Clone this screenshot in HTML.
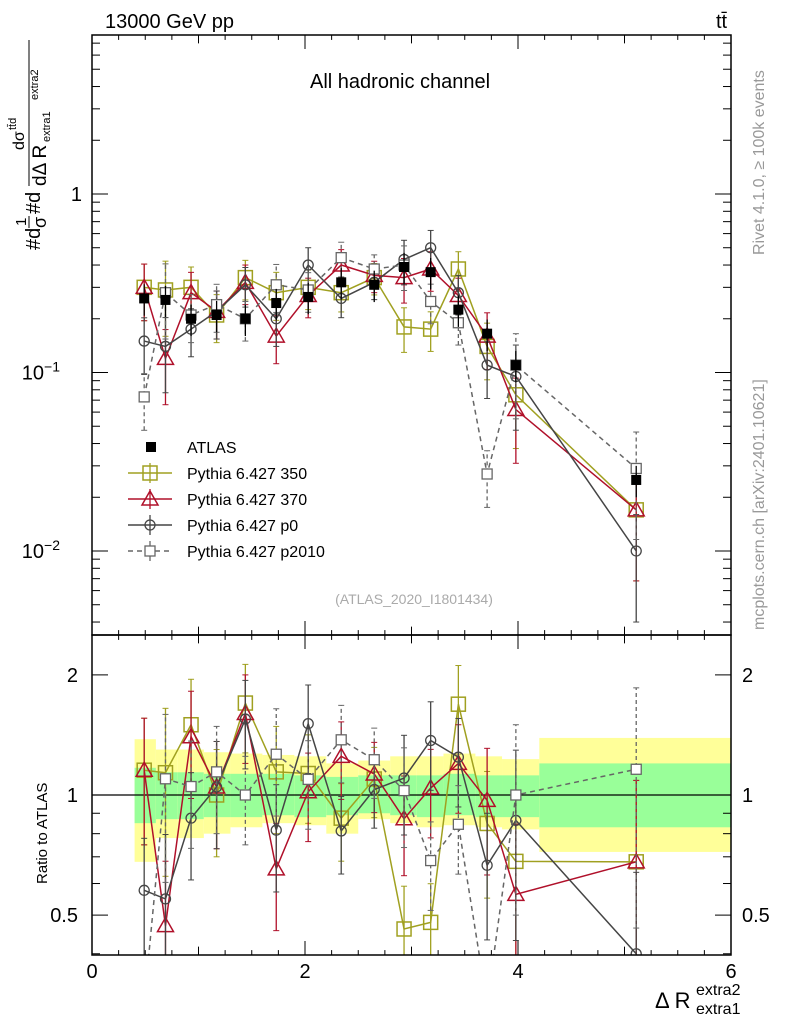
<!DOCTYPE html>
<html><head><meta charset="utf-8"><style>
html,body{margin:0;padding:0;width:786px;height:1024px;overflow:hidden;background:#fff;font-family:"Liberation Sans",sans-serif}
svg{display:block}
svg text{font-family:"Liberation Sans","DejaVu Sans",sans-serif}
</style></head><body>
<svg id="c" width="786" height="1024" xmlns="http://www.w3.org/2000/svg"></svg>
<script>
const binEdges=[0.4,0.6,0.8,1.05,1.3,1.6,1.9,2.2,2.5,2.8,3.05,3.3,3.6,3.85,4.2,6.0];
const binCenters=[0.49,0.69,0.93,1.17,1.44,1.73,2.03,2.34,2.65,2.93,3.18,3.44,3.71,3.98,5.11];
const atlasValues=[0.26,0.255,0.20,0.21,0.20,0.245,0.265,0.32,0.31,0.39,0.365,0.225,0.165,0.11,0.025];
const bandTotUp=[1.38,1.3,1.3,1.28,1.27,1.26,1.25,1.2,1.22,1.25,1.25,1.27,1.25,1.23,1.39];
const bandTotDn=[0.68,0.78,0.78,0.8,0.83,0.85,0.84,0.8,0.87,0.85,0.83,0.84,0.83,0.82,0.72];
const bandStatUp=[1.17,1.14,1.14,1.13,1.13,1.13,1.12,1.11,1.12,1.12,1.12,1.13,1.12,1.12,1.2];
const bandStatDn=[0.85,0.87,0.87,0.88,0.88,0.89,0.88,0.89,0.9,0.89,0.88,0.89,0.88,0.88,0.83];
const p350=[0.30,0.29,0.30,0.21,0.34,0.28,0.30,0.28,0.34,0.18,0.175,0.38,0.14,0.075,0.017];
const p370=[0.30,0.12,0.28,0.22,0.32,0.16,0.27,0.40,0.35,0.34,0.38,0.27,0.16,0.062,0.017];
const pP0=[0.15,0.14,0.175,0.22,0.31,0.20,0.40,0.26,0.32,0.43,0.50,0.28,0.11,0.095,0.010];
const pP2010=[0.073,0.28,0.21,0.24,0.20,0.31,0.29,0.44,0.38,0.40,0.25,0.19,0.027,0.11,0.029];
const mcRelErr=[0.35,0.45,0.3,0.3,0.25,0.3,0.25,0.22,0.2,0.28,0.25,0.25,0.35,0.5,0.6];
const xTicks=[0,2,4,6];
const legendLabels=["ATLAS","Pythia 6.427 350","Pythia 6.427 370","Pythia 6.427 p0","Pythia 6.427 p2010"];

const svg=document.getElementById('c');const NS="http://www.w3.org/2000/svg";
function el(t,a,p){const e=document.createElementNS(NS,t);for(const k in a)e.setAttribute(k,a[k]);(p||svg).appendChild(e);return e;}
const X0=92,X1=731,T0=35,T1=635,R1=955;
const clamp=(v,a,b)=>Math.min(b,Math.max(a,v));
const xs=v=>X0+(v-0)/6*(X1-X0);
const ys=v=>194-178.5*Math.log10(clamp(v,0.002,10));
const yr=v=>795-399*Math.log10(clamp(v,0.3,3));
const defs=el('defs',{});
const c1=el('clipPath',{id:'cTop'},defs);el('rect',{x:X0,y:T0,width:X1-X0,height:T1-T0},c1);
const c2=el('clipPath',{id:'cRat'},defs);el('rect',{x:X0,y:T1,width:X1-X0,height:R1-T1},c2);
const gTop=el('g',{'clip-path':'url(#cTop)'});
const gRat=el('g',{'clip-path':'url(#cRat)'});
binCenters.forEach((c,i)=>{
 const x=xs(binEdges[i]),w=xs(binEdges[i+1])-x;
 const b1=el('rect',{x:x,y:yr(bandTotUp[i]),width:w,height:yr(bandTotDn[i])-yr(bandTotUp[i]),fill:'#ffff99'},gRat);
 
 const b2=el('rect',{x:x,y:yr(bandStatUp[i]),width:w,height:yr(bandStatDn[i])-yr(bandStatUp[i]),fill:'#99ff99'},gRat);
 
});
el('line',{x1:X0,x2:X1,y1:yr(1),y2:yr(1),stroke:'#000','stroke-width':1.2},gRat);
const series=[
 {name:'pythia-350',vals:p350,col:'#a0a020',m:'sq',dash:null},
 {name:'pythia-370',vals:p370,col:'#b0102a',m:'tri',dash:null},
 {name:'pythia-p0',vals:pP0,col:'#454545',m:'circ',dash:null},
 {name:'pythia-p2010',vals:pP2010,col:'#666',m:'ssq',dash:'5,4'}];
function marker(g,m,x,y,col){
 let e;
 if(m==='sq')e=el('rect',{x:x-7,y:y-7,width:14,height:14,fill:'none',stroke:col,'stroke-width':1.5},g);
 else if(m==='ssq')e=el('rect',{x:x-5,y:y-5,width:10,height:10,fill:'#fff',stroke:col,'stroke-width':1.3},g);
 else if(m==='tri')e=el('polygon',{points:`${x},${y-8} ${x-8},${y+6} ${x+8},${y+6}`,fill:'none',stroke:col,'stroke-width':1.5},g);
 else if(m==='circ')e=el('circle',{cx:x,cy:y,r:5,fill:'none',stroke:col,'stroke-width':1.3},g);
 else e=el('rect',{x:x-5,y:y-5,width:10,height:10,fill:'#000'},g);
 return e;
}
function drawSeries(g,s,yf,ratio){
 const vals=s.vals.map((v,i)=>ratio?v/atlasValues[i]:v);
 const pts=vals.map((v,i)=>xs(binCenters[i])+','+yf(v)).join(' ');
 const pl=el('polyline',{points:pts,fill:'none',stroke:s.col,'stroke-width':1.5},g);
 if(s.dash)pl.setAttribute('stroke-dasharray',s.dash);
 
 vals.forEach((v,i)=>{
  const x=xs(binCenters[i]);const e=mcRelErr[i];
  const lo=Math.max(v*(1-e),1e-4),hi=v*(1+e);
  const eb=el('line',{x1:x,x2:x,y1:yf(lo),y2:yf(hi),stroke:s.col,'stroke-width':1.3},g);
  if(s.dash)eb.setAttribute('stroke-dasharray','4,3');
  
  el('line',{x1:x-3,x2:x+3,y1:yf(lo),y2:yf(lo),stroke:s.col},g);
  el('line',{x1:x-3,x2:x+3,y1:yf(hi),y2:yf(hi),stroke:s.col},g);
  const mk=marker(g,s.m,x,yf(v),s.col);
  
 });
}
series.forEach(s=>{drawSeries(gTop,s,ys,false);drawSeries(gRat,s,yr,true);});
atlasValues.forEach((v,i)=>{
 const x=xs(binCenters[i]);
 el('line',{x1:x,x2:x,y1:ys(v*0.8),y2:ys(v*1.2),stroke:'#000','stroke-width':1.3},gTop);
 const mk=marker(gTop,'fill',x,ys(v),'#000');
 
});
[[T0,T1],[T1,R1]].forEach(([a,b],k)=>{const f=el('rect',{x:X0,y:a,width:X1-X0,height:b-a,fill:'none',stroke:'#000','stroke-width':1.5});
 });
for(let v=0;v<=6.001;v+=0.25){const x=xs(v);const big=Math.abs(v-Math.round(v/2)*2)<1e-6?1:(Math.abs(v-Math.round(v))<1e-6?0.6:0.35);
 const L=big*14;
 el('line',{x1:x,x2:x,y1:R1,y2:R1-L,stroke:'#000'});el('line',{x1:x,x2:x,y1:T1,y2:T1-L,stroke:'#000'});
 el('line',{x1:x,x2:x,y1:T0,y2:T0+L,stroke:'#000'});el('line',{x1:x,x2:x,y1:T1,y2:T1+L,stroke:'#000'});}
xTicks.forEach(v=>{const t=el('text',{x:xs(v),y:978,'font-size':20,'text-anchor':'middle'});t.textContent=v;
 });
for(let d=-3;d<=0;d++)for(let m=1;m<=9;m++){const v=m*Math.pow(10,d);const y=194-178.5*Math.log10(v);if(y<T0||y>T1)continue;
 const L=m===1?16:8;el('line',{x1:X0,x2:X0+L,y1:y,y2:y,stroke:'#000'});el('line',{x1:X1,x2:X1-L,y1:y,y2:y,stroke:'#000'});}
[[1,'1'],[0.1,'10'],[0.01,'10']].forEach(([v,s],i)=>{const t=el('text',{x:i?60:82,y:ys(v)+7,'font-size':20,'text-anchor':'end'});t.textContent=s;
 if(i){const sp=el('tspan',{dy:-8,'font-size':14},t);sp.textContent=i===1?'−1':'−2';}
 });
[0.4,0.5,0.6,0.7,0.8,0.9,1,2].forEach(v=>{const y=yr(v);const L=(v===0.5||v===1||v===2)?16:8;
 el('line',{x1:X0,x2:X0+L,y1:y,y2:y,stroke:'#000'});el('line',{x1:X1,x2:X1-L,y1:y,y2:y,stroke:'#000'});});
[[2,'2'],[1,'1'],[0.5,'0.5']].forEach(([v,s])=>{
 const t=el('text',{x:78,y:yr(v)+7,'font-size':20,'text-anchor':'end'});t.textContent=s;
 const t2=el('text',{x:742,y:yr(v)+7,'font-size':20});t2.textContent=s;});
const lg=el('g',{});
legendLabels.forEach((lab,i)=>{const y=447+i*26;
 if(i===0){el('rect',{x:146,y:y-5,width:10,height:10,fill:'#000'},lg);}
 else{const s=series[i-1];const ln=el('line',{x1:128,x2:172,y1:y,y2:y,stroke:s.col,'stroke-width':1.5},lg);if(s.dash)ln.setAttribute('stroke-dasharray',s.dash);
  el('line',{x1:150,x2:150,y1:y-10,y2:y+10,stroke:s.col,'stroke-width':1.3},lg);marker(lg,s.m,150,y,s.col);}
 const t=el('text',{x:187,y:y+6,'font-size':16},lg);t.textContent=lab;});
function txt(x,y,s,fs,opts,name,parent){const t=el('text',Object.assign({x:x,y:y,'font-size':fs},opts||{}),parent);t.textContent=s;return t;}
txt(105,28,'13000 GeV pp',20,{},'energy-label');
txt(716,28,'tt̄',20,{},'process-label');
txt(310,88,'All hadronic channel',20,{},'channel-title');
txt(414,604,'(ATLAS_2020_I1801434)',14,{fill:'#aaa','text-anchor':'middle'},'analysis-id');
txt(0,0,'Rivet 4.1.0, ≥ 100k events',16,{fill:'#999',transform:'translate(764,255) rotate(-90)'},'rivet-label');
txt(0,0,'mcplots.cern.ch [arXiv:2401.10621]',16,{fill:'#999',transform:'translate(764,630) rotate(-90)'},'mcplots-label');
txt(0,0,'Ratio to ATLAS',15,{transform:'translate(47,884) rotate(-90)'},'ratio-y-axis-title');
const yg=el('g',{transform:'translate(0,250) rotate(-90)'});
txt(0,40,'#d',20,{},'y-title-part',yg);
txt(24,26,'1',15,{},'y-title-part',yg);
el('line',{x1:22,x2:34,y1:29,y2:29,stroke:'#000'},yg);
txt(22,46,'σ',18,{},'y-title-part',yg);
txt(36,40,'#d',20,{},'y-title-part',yg);
txt(100,24,'dσ',16,{},'y-title-part',yg);
txt(120,16,'tt̄d',11,{},'y-title-part',yg);
el('line',{x1:64,x2:210,y1:29,y2:29,stroke:'#000'},yg);
txt(64,46,'dΔ R',19,{},'y-title-part',yg);
txt(108,50,'extra1',11,{},'y-title-part',yg);
txt(150,38,'extra2',11,{},'y-title-part',yg);
txt(655,1008,'Δ R',22,{},'x-axis-title');
txt(696,995,'extra2',16,{},'x-axis-title-sup');
txt(696,1014,'extra1',16,{},'x-axis-title-sub');
</script>
</body></html>
